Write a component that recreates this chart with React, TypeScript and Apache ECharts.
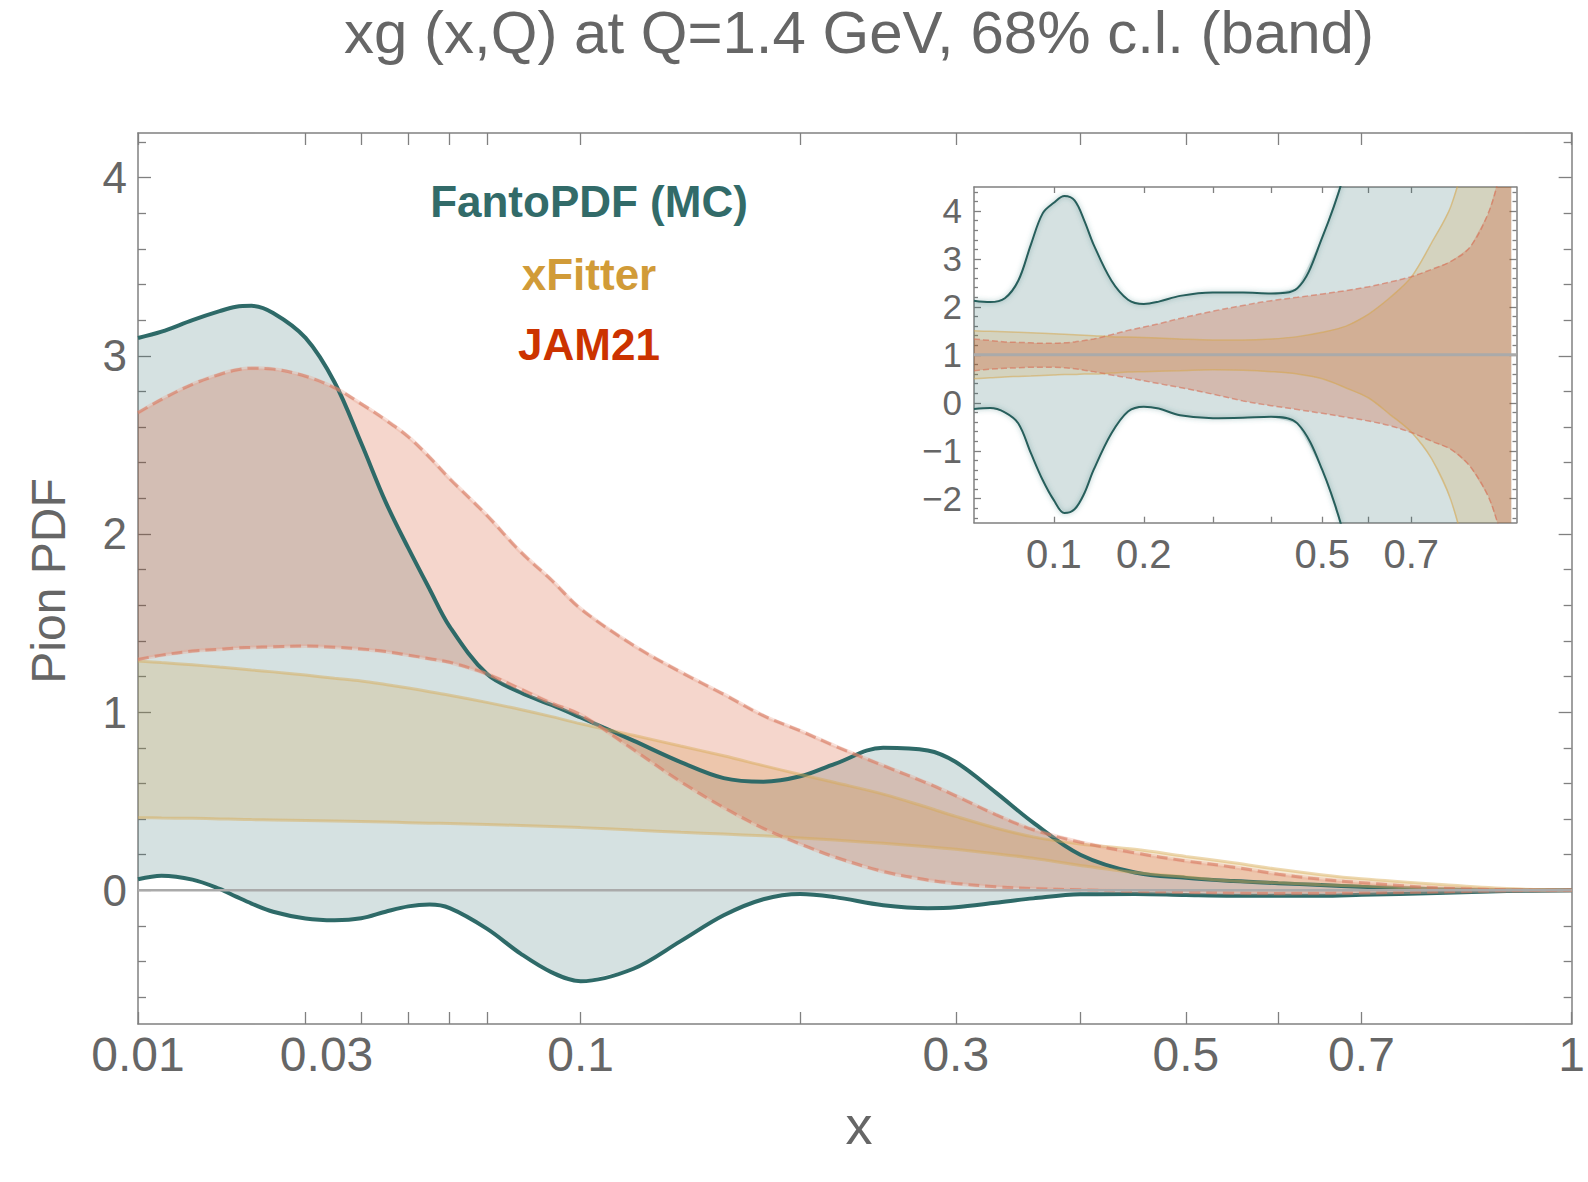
import { useEffect, useRef } from "react";
import * as echarts from "echarts";

const FONT = '"Liberation Sans", Arial, Helvetica, sans-serif';
const TXT = "#666666";
const FRAME = "#808080";

// ---------- main panel: x grid and bands ----------
const MAIN_X = [0.01, 0.012, 0.015, 0.018, 0.02, 0.022, 0.025, 0.03, 0.035, 0.04, 0.045, 0.05, 0.055, 0.06, 0.07, 0.08, 0.09, 0.1, 0.12, 0.14, 0.16, 0.18, 0.2, 0.22, 0.25, 0.28, 0.3, 0.33, 0.36, 0.4, 0.45, 0.5, 0.55, 0.6, 0.65, 0.7, 0.8, 0.9, 1.0];
const FANTO_UP = [3.10, 3.135, 3.20, 3.25, 3.275, 3.28, 3.24, 3.10, 2.85, 2.51, 2.18, 1.92, 1.69, 1.48, 1.215, 1.11, 1.04, 0.97, 0.84, 0.72, 0.63, 0.61, 0.64, 0.71, 0.80, 0.785, 0.72, 0.55, 0.38, 0.20, 0.10, 0.07, 0.052, 0.04, 0.03, 0.02, 0.006, 0.0, 0.0];
const FANTO_LO = [0.062, 0.082, 0.06, 0.008, -0.035, -0.074, -0.12, -0.158, -0.168, -0.157, -0.12, -0.09, -0.08, -0.10, -0.215, -0.355, -0.46, -0.51, -0.44, -0.285, -0.14, -0.05, -0.02, -0.038, -0.083, -0.10, -0.095, -0.07, -0.045, -0.022, -0.02, -0.026, -0.03, -0.03, -0.03, -0.025, -0.015, -0.004, 0];
const XF_UP = [1.287, 1.278, 1.266, 1.253, 1.245, 1.237, 1.226, 1.208, 1.19, 1.175, 1.155, 1.135, 1.115, 1.095, 1.055, 1.015, 0.975, 0.935, 0.87, 0.81, 0.755, 0.70, 0.65, 0.605, 0.54, 0.465, 0.415, 0.35, 0.30, 0.26, 0.23, 0.19, 0.155, 0.118, 0.088, 0.065, 0.034, 0.01, 0];
const XF_LO = [0.408, 0.406, 0.404, 0.401, 0.399, 0.397, 0.395, 0.392, 0.389, 0.386, 0.383, 0.38, 0.377, 0.375, 0.37, 0.364, 0.358, 0.352, 0.338, 0.326, 0.316, 0.306, 0.294, 0.282, 0.264, 0.245, 0.23, 0.205, 0.18, 0.14, 0.10, 0.075, 0.052, 0.042, 0.032, 0.024, 0.01, 0.003, 0];
const JAM_UP = [2.68, 2.755, 2.84, 2.895, 2.92, 2.93, 2.925, 2.885, 2.82, 2.73, 2.64, 2.545, 2.43, 2.31, 2.105, 1.90, 1.74, 1.58, 1.375, 1.225, 1.10, 0.98, 0.895, 0.81, 0.70, 0.60, 0.53, 0.425, 0.34, 0.27, 0.21, 0.165, 0.13, 0.09, 0.062, 0.043, 0.014, 0.003, 0];
const JAM_LO = [1.296, 1.32, 1.343, 1.353, 1.36, 1.363, 1.367, 1.371, 1.364, 1.355, 1.34, 1.32, 1.30, 1.28, 1.215, 1.13, 1.05, 0.985, 0.79, 0.61, 0.465, 0.348, 0.26, 0.187, 0.106, 0.058, 0.039, 0.02, 0.01, 0.003, -0.005, -0.01, -0.015, -0.017, -0.016, -0.014, -0.008, -0.002, 0];

const MAIN_X_TICKS = [0.01, 0.03, 0.04, 0.05, 0.06, 0.07, 0.1, 0.2, 0.3, 0.4, 0.5, 0.6, 0.7, 1];
const MAIN_X_LABELS = ["0.01", "0.03", "0.1", "0.3", "0.5", "0.7", "1"];
const MAIN_Y_MAJOR = [0, 1, 2, 3, 4];
const MAIN_Y_MINOR = [-0.6, -0.4, -0.2, 0.2, 0.4, 0.6, 0.8, 1.2, 1.4, 1.6, 1.8, 2.2, 2.4, 2.6, 2.8, 3.2, 3.4, 3.6, 3.8, 4.2];
const MAIN_Y_RANGE = [-0.75, 4.25];

// ---------- inset: ratio to central value ----------
const INSET_X = [0.04, 0.05, 0.06, 0.07, 0.08, 0.09, 0.1, 0.11, 0.12, 0.13, 0.14, 0.16, 0.18, 0.2, 0.22, 0.25, 0.3, 0.35, 0.4, 0.45, 0.5, 0.55, 0.6, 0.65, 0.7, 0.75, 0.8, 0.85, 0.9, 0.93, 0.965];
const R_FANTO_UP = [2.13, 2.10, 2.18, 2.55, 3.3, 3.95, 4.17, 4.31, 4.22, 3.8, 3.3, 2.55, 2.15, 2.06, 2.11, 2.23, 2.30, 2.30, 2.28, 2.39, 3.45, 4.9, 7, 9, 12, 15, 18, 21, 24, 26, 28];
const R_FANTO_LO = [-0.13, -0.11, -0.2, -0.43, -1.05, -1.61, -2.03, -2.30, -2.22, -1.89, -1.40, -0.64, -0.18, -0.08, -0.12, -0.26, -0.32, -0.31, -0.29, -0.43, -1.4, -2.9, -5, -7, -10, -13, -16, -19, -22, -24, -26];
const R_XF_UP = [1.50, 1.49, 1.48, 1.47, 1.46, 1.45, 1.44, 1.43, 1.42, 1.41, 1.40, 1.38, 1.37, 1.36, 1.35, 1.33, 1.31, 1.31, 1.33, 1.38, 1.47, 1.6, 1.85, 2.2, 2.62, 3.33, 4.1, 5.5, 7.5, 9, 11];
const R_XF_LO = [0.50, 0.52, 0.54, 0.55, 0.56, 0.57, 0.58, 0.59, 0.59, 0.60, 0.60, 0.62, 0.64, 0.65, 0.66, 0.67, 0.69, 0.68, 0.65, 0.60, 0.50, 0.31, 0.10, -0.25, -0.61, -1.16, -2.03, -3.5, -5.5, -7, -9];
const R_JAM_UP = [1.33, 1.30, 1.27, 1.26, 1.25, 1.24, 1.24, 1.25, 1.27, 1.30, 1.33, 1.42, 1.51, 1.58, 1.65, 1.76, 1.91, 2.03, 2.13, 2.20, 2.27, 2.34, 2.42, 2.52, 2.63, 2.78, 2.95, 3.24, 3.95, 4.7, 6];
const R_JAM_LO = [0.67, 0.70, 0.72, 0.73, 0.74, 0.74, 0.74, 0.73, 0.71, 0.68, 0.65, 0.58, 0.52, 0.46, 0.40, 0.32, 0.18, 0.04, -0.06, -0.14, -0.22, -0.30, -0.38, -0.48, -0.62, -0.8, -0.97, -1.32, -1.95, -2.6, -3.5];

const INSET_X_RANGE = [0.04, 0.98];
const INSET_X_TICKS = [0.1, 0.2, 0.3, 0.4, 0.5, 0.6, 0.7];
const INSET_X_LABELS = ["0.1", "0.2", "0.5", "0.7"];
const INSET_Y_MAJOR = [-2, -1, 0, 1, 2, 3, 4];
const INSET_Y_MINOR = [-2.4, -2.2, -1.8, -1.6, -1.4, -1.2, -0.8, -0.6, -0.4, -0.2, 0.2, 0.4, 0.6, 0.8, 1.2, 1.4, 1.6, 1.8, 2.2, 2.4, 2.6, 2.8, 3.2, 3.4, 3.6, 3.8, 4.2, 4.4];
const INSET_Y_RANGE = [-2.5, 4.5];

const TEAL = "#2e6a68";
const GOLD = "#d19b38";
const RED = "#cc3300";

// axis scalings (Mathematica-like power scales)
const fMain = (x: number) => Math.pow(x, 0.35);
const fInset = (x: number) => Math.sqrt(x);

const SM = 0.35;

function nearestLabel(v: number, labels: string[], f: (x: number) => number) {
  let best = labels[0];
  let bd = Infinity;
  for (const l of labels) {
    const d = Math.abs(f(parseFloat(l)) - v);
    if (d < bd) {
      bd = d;
      best = l;
    }
  }
  return best;
}

function band(id: string, xs: number[], lo: number[], hi: number[], f: (x: number) => number, color: string, alpha: number, xi: number, yi: number) {
  return {
    type: "custom",
    id: "band_" + id,
    xAxisIndex: xi,
    yAxisIndex: yi,
    silent: true,
    clip: true,
    data: [[f(xs[0]), lo[0]]],
    renderItem: (params: any, api: any) => {
      if (params.dataIndex !== 0) return null;
      const pts: number[][] = [];
      for (let i = 0; i < xs.length; i++) pts.push(api.coord([f(xs[i]), hi[i]]));
      for (let i = xs.length - 1; i >= 0; i--) pts.push(api.coord([f(xs[i]), lo[i]]));
      return { type: "polygon", shape: { points: pts }, style: { fill: color, opacity: alpha } };
    },
  };
}

function edge(id: string, xs: number[], ys: number[], f: (x: number) => number, lineStyle: any, xi: number, yi: number) {
  return {
    type: "line",
    id: "edge_" + id,
    xAxisIndex: xi,
    yAxisIndex: yi,
    smooth: SM,
    symbol: "none",
    showSymbol: false,
    silent: true,
    data: xs.map((x, i) => [f(x), ys[i]]),
    lineStyle,
  };
}

function App() {
  const ref = useRef<HTMLDivElement>(null);

  useEffect(() => {
    if (!ref.current) return;
    const chart = echarts.init(ref.current, undefined, { renderer: "svg" });

    const frameLine = { show: true, onZero: false, lineStyle: { color: FRAME, width: 1.5 } };
    const tickStyle = { color: FRAME, width: 1.3 };

    const xMin = fMain(MAIN_X[0]);
    const xMax = fMain(MAIN_X[MAIN_X.length - 1]);
    const ixMin = fInset(INSET_X_RANGE[0]);
    const ixMax = fInset(INSET_X_RANGE[1]);

    const mainXAxis = (position: string, labels: boolean) => ({
      type: "value",
      gridIndex: 0,
      position,
      min: xMin,
      max: xMax,
      axisLine: frameLine,
      splitLine: { show: false },
      axisTick: { show: true, inside: true, length: 12, lineStyle: tickStyle, customValues: MAIN_X_TICKS.map(fMain) },
      axisLabel: labels
        ? {
            show: true,
            customValues: MAIN_X_LABELS.map((l) => fMain(parseFloat(l))),
            formatter: (v: number) => {
              const l = nearestLabel(v, MAIN_X_LABELS, fMain);
              return l === "0.03" ? "{s|" + l + "}" : l;
            },
            rich: { s: { padding: [0, 0, 0, 42], fontSize: 48, color: TXT, fontFamily: FONT } },
            fontSize: 48,
            color: TXT,
            fontFamily: FONT,
            margin: 6,
          }
        : { show: false },
    });

    const yAx = (gridIndex: number, position: string, range: number[], vals: number[], len: number, line: boolean, label: any) => ({
      type: "value",
      gridIndex,
      position,
      min: range[0],
      max: range[1],
      axisLine: line ? frameLine : { show: false, onZero: false },
      splitLine: { show: false },
      axisTick: { show: true, inside: true, length: len, lineStyle: tickStyle, customValues: vals },
      axisLabel: label || { show: false },
    });

    const insetXAxis = (position: string, labels: boolean) => ({
      type: "value",
      gridIndex: 1,
      position,
      min: ixMin,
      max: ixMax,
      axisLine: frameLine,
      splitLine: { show: false },
      axisTick: { show: true, inside: true, length: 6, lineStyle: tickStyle, customValues: INSET_X_TICKS.map(fInset) },
      axisLabel: labels
        ? {
            show: true,
            customValues: INSET_X_LABELS.map((l) => fInset(parseFloat(l))),
            formatter: (v: number) => nearestLabel(v, INSET_X_LABELS, fInset),
            fontSize: 40,
            color: TXT,
            fontFamily: FONT,
            margin: 11,
          }
        : { show: false },
    });

    const mainYLabel = {
      show: true,
      customValues: MAIN_Y_MAJOR,
      formatter: (v: number) => String(Math.round(v)),
      fontSize: 44,
      color: TXT,
      fontFamily: FONT,
      margin: 11,
    };
    const insetYLabel = {
      show: true,
      customValues: INSET_Y_MAJOR,
      formatter: (v: number) => {
        const r = Math.round(v);
        return r < 0 ? "\u2212" + Math.abs(r) : String(r);
      },
      fontSize: 35,
      color: TXT,
      fontFamily: FONT,
      margin: 12,
    };

    const series: any[] = [];
    // main panel
    series.push(band("fanto", MAIN_X, FANTO_LO, FANTO_UP, fMain, TEAL, 0.2, 0, 0));
    series.push(edge("fanto_up", MAIN_X, FANTO_UP, fMain, { color: TEAL, width: 4 }, 0, 0));
    series.push(edge("fanto_lo", MAIN_X, FANTO_LO, fMain, { color: TEAL, width: 4 }, 0, 0));
    series.push(band("xf", MAIN_X, XF_LO, XF_UP, fMain, GOLD, 0.2, 0, 0));
    series.push(edge("xf_up", MAIN_X, XF_UP, fMain, { color: "rgba(214,168,80,0.45)", width: 3 }, 0, 0));
    series.push(edge("xf_lo", MAIN_X, XF_LO, fMain, { color: "rgba(214,168,80,0.45)", width: 3 }, 0, 0));
    series.push(band("jam", MAIN_X, JAM_LO, JAM_UP, fMain, RED, 0.2, 0, 0));
    series.push(edge("jam_up_h", MAIN_X, JAM_UP, fMain, { color: "rgba(236,170,150,0.35)", width: 4 }, 0, 0));
    series.push(edge("jam_lo_h", MAIN_X, JAM_LO, fMain, { color: "rgba(236,170,150,0.35)", width: 4 }, 0, 0));
    series.push(edge("jam_up", MAIN_X, JAM_UP, fMain, { color: "rgba(215,120,95,0.6)", width: 3, type: [11, 6] }, 0, 0));
    series.push(edge("jam_lo", MAIN_X, JAM_LO, fMain, { color: "rgba(215,120,95,0.6)", width: 3, type: [11, 6] }, 0, 0));
    series.push({
      type: "line",
      id: "zero_line",
      xAxisIndex: 0,
      yAxisIndex: 0,
      symbol: "none",
      silent: true,
      data: [
        [xMin, 0],
        [xMax, 0],
      ],
      lineStyle: { color: "#aaaaaa", width: 2.5 },
    });

    // inset
    const XI = 2;
    const YI = 4;
    series.push(band("r_fanto", INSET_X, R_FANTO_LO, R_FANTO_UP, fInset, TEAL, 0.2, XI, YI));
    const insetTeal = { color: "#285e5b", width: 2, shadowColor: "rgba(60,125,125,0.55)", shadowBlur: 5 };
    series.push(edge("r_fanto_up", INSET_X, R_FANTO_UP, fInset, insetTeal, XI, YI));
    series.push(edge("r_fanto_lo", INSET_X, R_FANTO_LO, fInset, insetTeal, XI, YI));
    series.push(band("r_xf", INSET_X, R_XF_LO, R_XF_UP, fInset, GOLD, 0.2, XI, YI));
    series.push(edge("r_xf_up", INSET_X, R_XF_UP, fInset, { color: "rgba(214,168,80,0.55)", width: 1.5 }, XI, YI));
    series.push(edge("r_xf_lo", INSET_X, R_XF_LO, fInset, { color: "rgba(214,168,80,0.55)", width: 1.5 }, XI, YI));
    series.push(band("r_jam", INSET_X, R_JAM_LO, R_JAM_UP, fInset, RED, 0.22, XI, YI));
    series.push(edge("r_jam_up", INSET_X, R_JAM_UP, fInset, { color: "rgba(215,110,85,0.6)", width: 1.5, type: [6, 3] }, XI, YI));
    series.push(edge("r_jam_lo", INSET_X, R_JAM_LO, fInset, { color: "rgba(215,110,85,0.6)", width: 1.5, type: [6, 3] }, XI, YI));
    series.push({
      type: "line",
      id: "one_line",
      xAxisIndex: XI,
      yAxisIndex: YI,
      symbol: "none",
      silent: true,
      data: [
        [ixMin, 1],
        [ixMax, 1],
      ],
      lineStyle: { color: "#aaaaaa", width: 3 },
    });

    const center = { textAlign: "center", textVerticalAlign: "middle", align: "center", verticalAlign: "middle" };
    const option: any = {
      animation: false,
      backgroundColor: "#ffffff",
      grid: [
        { left: 138, top: 133, width: 1442, height: 891, containLabel: false },
        { left: 974, top: 187, width: 542.5, height: 335.7, containLabel: false },
      ],
      xAxis: [mainXAxis("bottom", true), mainXAxis("top", false), insetXAxis("bottom", true), insetXAxis("top", false)],
      yAxis: [
        yAx(0, "left", MAIN_Y_RANGE, MAIN_Y_MAJOR, 13, true, mainYLabel),
        yAx(0, "left", MAIN_Y_RANGE, MAIN_Y_MINOR, 8, false, null),
        yAx(0, "right", MAIN_Y_RANGE, MAIN_Y_MAJOR, 13, true, null),
        yAx(0, "right", MAIN_Y_RANGE, MAIN_Y_MINOR, 8, false, null),
        yAx(1, "left", INSET_Y_RANGE, INSET_Y_MAJOR, 7, true, insetYLabel),
        yAx(1, "left", INSET_Y_RANGE, INSET_Y_MINOR, 4, false, null),
        yAx(1, "right", INSET_Y_RANGE, INSET_Y_MAJOR, 7, true, null),
        yAx(1, "right", INSET_Y_RANGE, INSET_Y_MINOR, 4, false, null),
      ],
      series,
      graphic: [
        { type: "text", x: 859, y: 32, silent: true, style: { text: "xg (x,Q) at Q=1.4 GeV, 68% c.l. (band)", fill: TXT, font: `60px ${FONT}`, ...center } },
        { type: "text", x: 859, y: 1125, silent: true, style: { text: "x", fill: TXT, font: `54px ${FONT}`, ...center } },
        { type: "text", x: 48, y: 581, rotation: Math.PI / 2, silent: true, style: { text: "Pion PDF", fill: TXT, font: `48px ${FONT}`, ...center } },
        { type: "text", x: 589, y: 201, silent: true, style: { text: "FantoPDF (MC)", fill: "#326b69", font: `bold 44px ${FONT}`, ...center } },
        { type: "text", x: 589, y: 274, silent: true, style: { text: "xFitter", fill: GOLD, font: `bold 44px ${FONT}`, ...center } },
        { type: "text", x: 589, y: 344, silent: true, style: { text: "JAM21", fill: RED, font: `bold 44px ${FONT}`, ...center } },
      ],
    };

    chart.setOption(option);
    return () => chart.dispose();
  }, []);

  return <div ref={ref} style={{ position: "absolute", left: 0, top: 0, width: 1588, height: 1182, background: "#fff" }} />;
}

export default App;
